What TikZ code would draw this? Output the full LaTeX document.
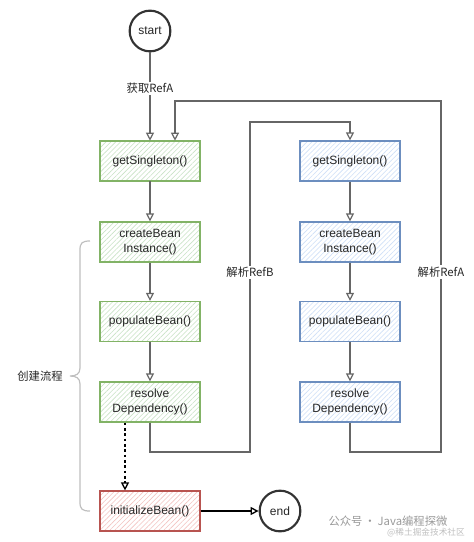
\documentclass[tikz,border=0pt]{standalone}
\usepackage{fontspec}
\setmainfont{Liberation Sans}
\newfontfamily\cjk{Noto Sans CJK SC}
\usetikzlibrary{arrows.meta,patterns.meta}
\definecolor{gline}{HTML}{82B366}
\definecolor{gfill}{HTML}{C9E3C6}
\definecolor{bline}{HTML}{6C8EBF}
\definecolor{bfill}{HTML}{CFE0F8}
\definecolor{rline}{HTML}{B85450}
\definecolor{rfill}{HTML}{F3C4C2}
\definecolor{conn}{HTML}{666666}
\begin{document}
\begin{tikzpicture}[x=0.75pt,y=-0.75pt,
  box/.style={draw, minimum width=75pt, minimum height=30pt, align=center,
    inner sep=1pt, font=\fontsize{9}{11}\selectfont, line width=0.9pt,
    text=black!85},
  gbox/.style={box, draw=gline, preaction={fill=white}, pattern color=gfill,
    pattern={Lines[angle=45,distance=2.6pt,line width=0.45pt]}},
  bbox/.style={box, draw=bline, preaction={fill=white}, pattern color=bfill,
    pattern={Lines[angle=45,distance=2.6pt,line width=0.45pt]}},
  rbox/.style={box, draw=rline, preaction={fill=white}, pattern color=rfill,
    pattern={Lines[angle=45,distance=2.6pt,line width=0.45pt]}},
  term/.style={circle, draw=black!80, line width=1.6pt, minimum size=30.5pt,
    inner sep=0pt, font=\fontsize{9}{11}\selectfont, text=black!85},
  arr/.style={draw=conn, line width=0.9pt,
    -{Triangle[open,width=6pt,length=6pt]}},
  lbl/.style={fill=white, inner sep=1pt, font=\cjk\fontsize{8.5}{10}\selectfont, text=black!85},
]
\useasboundingbox (0,0) rectangle (474,542);

\node[term] (start) at (150,31) {start};
\node[term] (end) at (280,511) {end};

\node[gbox] (a1) at (150,161) {getSingleton()};
\node[gbox] (a2) at (150,242) {createBean\\Instance()};
\node[gbox] (a3) at (150,321.5) {populateBean()};
\node[gbox] (a4) at (150,402) {resolve\\Dependency()};
\node[rbox] (a5) at (150,511) {initializeBean()};

\node[bbox] (b1) at (350,161) {getSingleton()};
\node[bbox] (b2) at (350,242) {createBean\\Instance()};
\node[bbox] (b3) at (350,321.5) {populateBean()};
\node[bbox] (b4) at (350,402) {resolve\\Dependency()};

\draw[arr] (start) -- node[lbl,pos=0.41]{获取RefA} (a1);
\draw[arr] (a1) -- (a2);
\draw[arr] (a2) -- (a3);
\draw[arr] (a3) -- (a4);
\draw[arr] (b1) -- (b2);
\draw[arr] (b2) -- (b3);
\draw[arr] (b3) -- (b4);

\coordinate (p1) at (250,452);
\coordinate (p2) at (250,122);
\draw[arr] (a4.south) |- (p1) -- node[lbl,pos=0.545]{解析RefB} (p2) -| (b1.north);

\coordinate (q1) at (441,452);
\coordinate (q2) at (441,101);
\coordinate (q3) at (175,101);
\draw[arr] (b4.south) |- (q1) -- node[lbl,pos=0.513]{解析RefA} (q2) -- (q3) -- (q3 |- a1.north);

\draw[line width=1pt, dash pattern=on 2pt off 2pt, -{Triangle[open,width=6pt,length=6pt]}]
  ([xshift=-18.75pt]a4.south) -- ([xshift=-18.75pt]a5.north);
\draw[line width=1pt, -{Triangle[open,width=6pt,length=6pt]}] (a5) -- (end);

% brace
\draw[black!25, line width=0.9pt] (90,241) .. controls (82,241) and (80,243) .. (80,250)
  -- (80,368) .. controls (80,374) and (76,376) .. (70,376)
  .. controls (76,376) and (80,378) .. (80,384)
  -- (80,502) .. controls (80,509) and (82,511) .. (90,511);
\node[lbl] (grp) at (40,376) {创建流程};

% watermark
\node[font=\cjk\fontsize{8.5}{10}\selectfont, text=black!40] (wm1) at (388,521) {公众号\,·\,Java编程探微};
\node[font=\cjk\fontsize{6.5}{7}\selectfont, text=black!25] (wm2) at (426,533) {@稀土掘金技术社区};
\end{tikzpicture}
\end{document}
